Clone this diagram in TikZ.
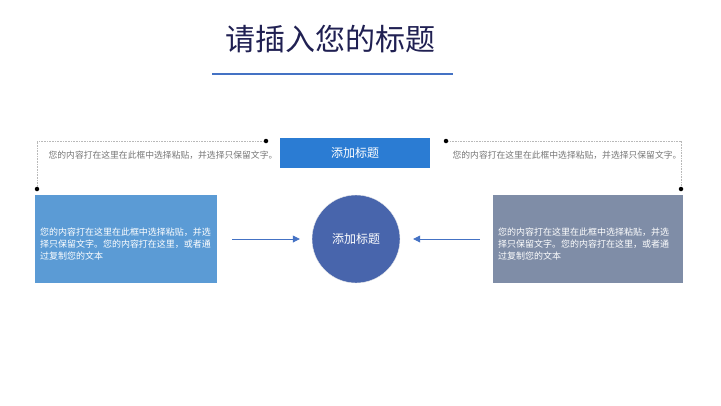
\documentclass[tikz,border=0pt]{standalone}
\usepackage{fontspec}
\setmainfont{Noto Sans CJK SC}
\usetikzlibrary{arrows.meta}

\definecolor{titlenavy}{RGB}{32,32,82}
\definecolor{accent}{RGB}{68,114,196}
\definecolor{topblue}{RGB}{43,124,211}
\definecolor{leftblue}{RGB}{91,155,213}
\definecolor{circblue}{RGB}{72,101,172}
\definecolor{slate}{RGB}{127,141,167}
\definecolor{notegray}{RGB}{118,118,118}

\begin{document}
\begin{tikzpicture}[
    x=1pt, y=-1pt,
    text centered,
	heading/.style={
	  anchor=base,
	  inner sep=0pt,
	  text=titlenavy,
	  font=\fontsize{30}{34}\selectfont
	},
	tag/.style={
	  rectangle,
	  minimum width=150pt,
	  minimum height=30pt,
	  fill=topblue,
	  text=white,
	  font=\fontsize{12}{14}\selectfont
	},
	note/.style={
	  inner sep=0pt,
	  text=notegray,
	  font=\fontsize{8.8}{11}\selectfont
	},
	panel/.style={
	  rectangle,
	  minimum width=182pt,
	  minimum height=88pt,
	  text width=172pt,
	  inner xsep=5pt,
	  align=left,
	  text depth=14pt,
	  text=white,
	  font=\fontsize{9}{11.6}\selectfont
	},
	hub/.style={
	  circle,
	  minimum size=88pt,
	  fill=circblue,
	  draw=white!85!gray,
	  thin,
	  text=white,
	  font=\fontsize{12}{14}\selectfont
	},
	pin/.style={circle, fill=black, inner sep=0pt, minimum size=4.5pt},
	guide/.style={draw, gray!55, densely dotted, line width=0.6pt},
 	line/.style={draw, accent, line width=0.8pt, -{Triangle[length=7pt, width=7pt]}}
	]
	\useasboundingbox (0, 0) rectangle (721, 405);
	\node at (330, 50) [heading] (titel) {请插入您的标题};
	\draw[accent, line width=1.6pt] (212, 74) -- (453, 74);
	\node at (355, 153) [tag] (tagmitte) {添加标题};
	\node at (163, 155) [note] (notizl) {您的内容打在这里在此框中选择粘贴，并选择只保留文字。};
	\node at (567, 155) [note] (notizr) {您的内容打在这里在此框中选择粘贴，并选择只保留文字。};
	\node at (266, 141) [pin] (pinl1) {};
	\node at (37, 189) [pin] (pinl2) {};
	\node at (446, 141) [pin] (pinr1) {};
	\node at (681, 189) [pin] (pinr2) {};
	\path[guide] (pinl1) -| (pinl2);
	\path[guide] (pinr1) -| (pinr2);
	\node at (126, 239) [panel, fill=leftblue] (panell) {您的内容打在这里在此框中选择粘贴，并选\\择只保留文字。您的内容打在这里，或者通\\过复制您的文本};
	\node at (588, 239) [panel, minimum width=190pt, text width=180pt, fill=slate] (panelr) {您的内容打在这里在此框中选择粘贴，并选\\择只保留文字。您的内容打在这里，或者通\\过复制您的文本};
	\node at (356, 239) [hub] (kreis) {添加标题};
	\path[line, shorten <=15pt, shorten >=12pt] (panell) -- (kreis);
	\path[line, shorten <=13pt, shorten >=13pt] (panelr) -- (kreis);
  \end{tikzpicture}
\end{document}
